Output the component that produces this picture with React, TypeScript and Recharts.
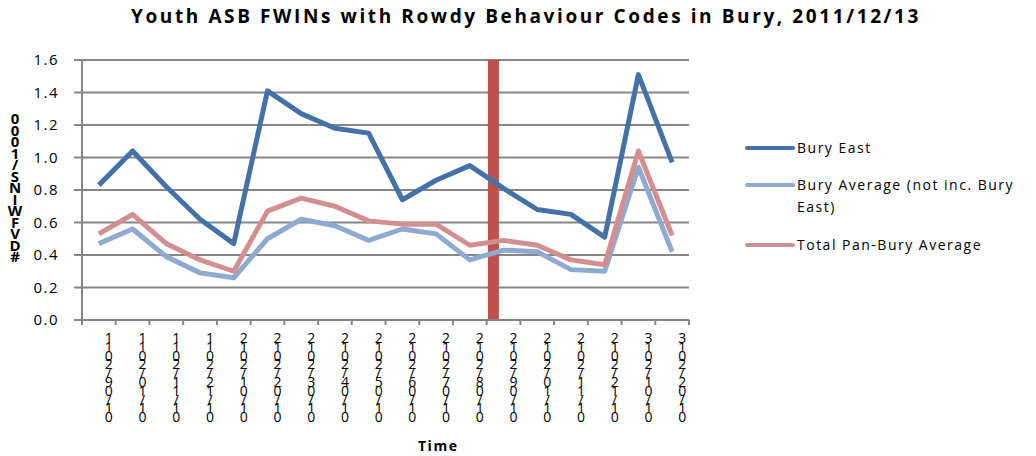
import React from "react";
import {
  LineChart,
  Line,
  XAxis,
  YAxis,
  CartesianGrid,
  ReferenceLine,
} from "recharts";

const FONT = "'Open Sans', 'Liberation Sans', sans-serif";
const GRID = "#868686";
const EAST = "#4371a8";
const AVG = "#8eaad0";
const PAN = "#d38f8f";
const MARKER = "#c0504d";

// ── data ────────────────────────────────────────────────────────
const MONTHS = [
  "01/09/2011", "01/10/2011", "01/11/2011", "01/12/2011",
  "01/01/2012", "01/02/2012", "01/03/2012", "01/04/2012",
  "01/05/2012", "01/06/2012", "01/07/2012", "01/08/2012",
  "01/09/2012", "01/10/2012", "01/11/2012", "01/12/2012",
  "01/01/2013", "01/02/2013",
];
const BURY_EAST = [0.83, 1.04, 0.82, 0.62, 0.47, 1.41, 1.27, 1.18, 1.15, 0.74, 0.86, 0.95, 0.81, 0.68, 0.65, 0.51, 1.51, 0.97];
const BURY_AVG = [0.47, 0.56, 0.39, 0.29, 0.26, 0.5, 0.62, 0.58, 0.49, 0.56, 0.53, 0.37, 0.43, 0.42, 0.31, 0.3, 0.94, 0.42];
const PAN_BURY = [0.53, 0.65, 0.47, 0.37, 0.3, 0.67, 0.75, 0.7, 0.61, 0.59, 0.59, 0.46, 0.49, 0.46, 0.37, 0.34, 1.04, 0.52];
const Y_TICKS = [0, 0.2, 0.4, 0.6, 0.8, 1.0, 1.2, 1.4, 1.6];
const MARKER_AT = 12.2; // red divider, in month units from the left edge
const Y_LABEL = "#DVFWINS/1000";

const data = MONTHS.map((m, i) => ({
  month: m,
  idx: i,
  east: BURY_EAST[i],
  avg: BURY_AVG[i],
  pan: PAN_BURY[i],
}));

const LEGEND = [
  { name: "Bury East", color: EAST, top: 137 },
  { name: "Bury Average (not inc. Bury East)", color: AVG, top: 174 },
  { name: "Total Pan-Bury Average", color: PAN, top: 234 },
];

// stacked, bottom-to-top date labels like the original export,
// plus the tick marks sitting on the category boundaries
function DateTick(props: any) {
  const { x, y, payload, index, visibleTicksCount } = props;
  const half = payload.offset || 0;
  const chars = String(payload.value).split("").reverse();
  const cx = x + 10;
  const isLast = index === visibleTicksCount - 1;
  return (
    <g>
      <line x1={x - half} x2={x - half} y1={y} y2={y + 5} stroke={GRID} strokeWidth={2} />
      {isLast && <line x1={x + half} x2={x + half} y1={y} y2={y + 5} stroke={GRID} strokeWidth={2} />}
      <text x={cx} y={y} fill="#000" fontSize={14} fontFamily={FONT} textAnchor="middle">
        {chars.map((c, i) => (
          <tspan key={i} x={cx} dy={i === 0 ? 23 : 8.8}>
            {c}
          </tspan>
        ))}
      </text>
    </g>
  );
}

function YStackLabel() {
  const chars = Y_LABEL.split("").reverse();
  return (
    <text x={15} y={113} fill="#000" fontSize={15} fontWeight="bold" fontFamily={FONT} textAnchor="middle">
      {chars.map((c, i) => (
        <tspan key={i} x={15} dy={i === 0 ? 11 : 11.5}>
          {c}
        </tspan>
      ))}
    </text>
  );
}

export default function App() {
  return (
    <div style={{ position: "absolute", left: 0, top: 0, width: 1036, height: 456, background: "#fff", fontFamily: FONT }}>
      <div
        style={{
          position: "absolute",
          left: 0,
          top: 3,
          width: 1052,
          textAlign: "center",
          fontSize: 19,
          fontWeight: "bold",
          letterSpacing: 2.6,
          color: "#000",
        }}
      >
        Youth ASB FWINs with Rowdy Behaviour Codes in Bury, 2011/12/13
      </div>

      <LineChart width={1036} height={456} data={data} margin={{ top: 60, right: 347, bottom: 0, left: 0 }}>
        <CartesianGrid vertical={false} stroke={GRID} strokeWidth={2} />
        <XAxis
          dataKey="month"
          scale="band"
          height={136}
          interval={0}
          axisLine={{ stroke: GRID, strokeWidth: 2 }}
          tickLine={false}
          tickSize={0}
          tickMargin={0}
          tick={<DateTick />}
        />
        <XAxis
          xAxisId="edge"
          dataKey="idx"
          type="number"
          scale="linear"
          hide
          domain={[0, MONTHS.length]}
          allowDataOverflow
        />
        <YAxis
          width={82}
          domain={[0, 1.6]}
          ticks={Y_TICKS}
          interval={0}
          tickFormatter={(v: number) => v.toFixed(1)}
          axisLine={{ stroke: GRID, strokeWidth: 2 }}
          tickLine={{ stroke: GRID, strokeWidth: 2 }}
          tickSize={8}
          tickMargin={15}
          tick={{ fontSize: 15, fill: "#000", fontFamily: FONT, letterSpacing: 1.5 }}
          label={{ content: () => <YStackLabel /> }}
        />
        <ReferenceLine xAxisId="edge" x={MARKER_AT} stroke={MARKER} strokeWidth={11} />
        <Line isAnimationActive={false} type="linear" dataKey="avg" stroke={AVG} strokeWidth={5} dot={false} strokeLinejoin="round" />
        <Line isAnimationActive={false} type="linear" dataKey="pan" stroke={PAN} strokeWidth={5} dot={false} strokeLinejoin="round" />
        <Line isAnimationActive={false} type="linear" dataKey="east" stroke={EAST} strokeWidth={5} dot={false} strokeLinejoin="round" />
      </LineChart>

      {LEGEND.map((l) => (
        <div key={l.name} style={{ position: "absolute", left: 745, top: l.top, width: 290, display: "flex", alignItems: "flex-start" }}>
          <div style={{ width: 50, height: 4, borderRadius: 2, background: l.color, marginTop: 9, flexShrink: 0 }} />
          <div style={{ fontSize: 14, letterSpacing: 1.5, lineHeight: "22px", marginLeft: 2, width: 238, color: "#000" }}>{l.name}</div>
        </div>
      ))}

      <div style={{ position: "absolute", left: 418, top: 436, fontSize: 14, fontWeight: "bold", letterSpacing: 1.5, color: "#000" }}>
        Time
      </div>
    </div>
  );
}
